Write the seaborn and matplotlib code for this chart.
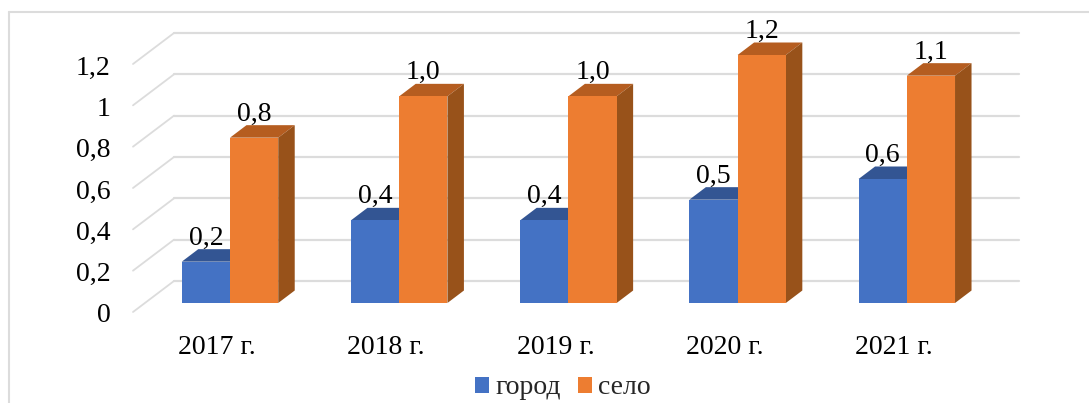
import matplotlib
matplotlib.use("Agg")
import matplotlib.pyplot as plt
from matplotlib.lines import Line2D
from matplotlib.patches import Polygon
from matplotlib.transforms import ScaledTranslation
import pandas as pd
import seaborn as sns

years = ["2017 г.", "2018 г.", "2019 г.", "2020 г.", "2021 г."]
gorod = [0.2, 0.4, 0.4, 0.5, 0.6]
selo = [0.8, 1.0, 1.0, 1.2, 1.1]
y_ticks = [0, 0.2, 0.4, 0.6, 0.8, 1, 1.2]
y_tick_labels = ["0", "0,2", "0,4", "0,6", "0,8", "1", "1,2"]

W, H = 1089, 403
BLUE, ORANGE = "#4472C4", "#ED7D31"
TOPS = {"город": "#335593", "село": "#B55D20"}
SIDES = {"город": "#2C4A80", "село": "#98521A"}
GRID = "#DCDCDC"
FS = 20

sns.set_style("white")
plt.rcParams["font.family"] = ["Liberation Serif", "DejaVu Serif"]

df = pd.DataFrame({"год": years, "город": gorod, "село": selo})
df = df.melt(id_vars="год", var_name="тип", value_name="значение")

fig = plt.figure(figsize=(W / 100, H / 100), dpi=100)
# plot box in pixels: categories 0..4 sit at 230 + 169.2 * i, 0 at y=303, 1.2 at y=55
left, right = 145.4, 991.4
bottom, top = 303, 55
ax = fig.add_axes([left / W, 1 - bottom / H, (right - left) / W, (bottom - top) / H])

sns.barplot(data=df, x="год", y="значение", hue="тип", palette=[BLUE, ORANGE],
            width=0.57, gap=0, saturation=1, ax=ax, zorder=3, legend=True, linewidth=0)
ax.set_xlim(-0.5, 4.5)
ax.set_ylim(0, 1.2)
ax.set(xlabel="", ylabel="")
sns.despine(ax=ax, left=True, bottom=True)

px_x = 1 / 169.2
px_y = 1.2 / 248
to_x = lambda px: (px - 230) * px_x

# back wall and floor lines
for v in y_ticks:
    wall = v + 22 * px_y
    ax.plot([to_x(174), to_x(1019)], [wall, wall], color=GRID, lw=1.6, zorder=1, clip_on=False)
    ax.plot([to_x(133), to_x(174)], [v - 9 * px_y, wall], color=GRID, lw=1.3, zorder=1, clip_on=False)

# 3d sides of the bars
dx, dy = 16.5 * px_x, 12.5 * px_y
for container, name in zip(ax.containers, ["город", "село"]):
    for bar in container:
        x0, x1 = bar.get_x(), bar.get_x() + bar.get_width()
        h = bar.get_height()
        ax.add_patch(Polygon([(x0, h), (x1, h), (x1 + dx, h + dy), (x0 + dx, h + dy)],
                             color=TOPS[name], lw=0, zorder=2, clip_on=False))
        ax.add_patch(Polygon([(x1, 0), (x1, h), (x1 + dx, h + dy), (x1 + dx, dy)],
                             color=SIDES[name], lw=0, zorder=2, clip_on=False))
        ax.annotate(f"{h:.1f}".replace(".", ","), ((x0 + x1) / 2, h), xytext=(0, 17),
                    textcoords="offset points", ha="center", va="center",
                    fontsize=FS, color="black", zorder=5, annotation_clip=False)

# tick labels sit on the front plane, lower than the bars' base
ax.set_yticks(y_ticks)
ax.set_yticklabels(y_tick_labels)
ax.tick_params(axis="y", length=0, pad=25, labelsize=FS, labelcolor="black")
ax.tick_params(axis="x", length=0, pad=23, labelsize=FS, labelcolor="black")
y_shift = ScaledTranslation(0, -10 / 100, fig.dpi_scale_trans)
x_shift = ScaledTranslation(-13 / 100, 0, fig.dpi_scale_trans)
for label in ax.get_yticklabels():
    label.set_transform(label.get_transform() + y_shift)
for label in ax.get_xticklabels():
    label.set_transform(label.get_transform() + x_shift)

ax.legend(loc="center", bbox_to_anchor=(563 / W, 1 - 388 / H), bbox_transform=fig.transFigure,
          ncol=2, frameon=False, fontsize=FS, handlelength=0.5, handleheight=0.5,
          handletextpad=0.22, columnspacing=0.62, borderpad=0, title=None)

# outer frame of the picture
fig.add_artist(Line2D([9 / W, 9 / W], [0, 1 - 12 / H], color=GRID, lw=1.5))
fig.add_artist(Line2D([9 / W, 1], [1 - 12 / H, 1 - 12 / H], color=GRID, lw=1.5))

fig.savefig("out.png", dpi=100)
